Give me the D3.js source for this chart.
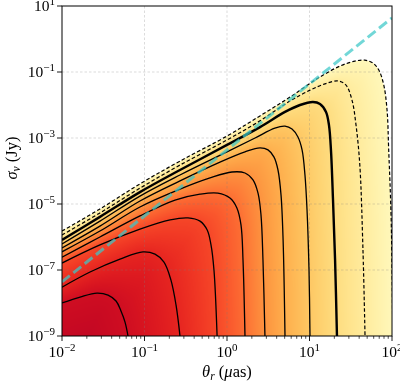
<!DOCTYPE html>
<html><head><meta charset="utf-8">
<script src="https://cdn.jsdelivr.net/npm/d3@7"></script>
<style>
html,body{margin:0;padding:0;background:#fff;}
#wrap{position:relative;width:400px;height:382px;}
canvas,svg{position:absolute;left:0;top:0;}
</style></head><body>
<div id="wrap"><canvas id="fill" width="400" height="382"></canvas><svg id="chart" width="400" height="382"></svg></div>
<script>
// Contour lines, as [log10 θ_r (μas), log10 σ_ν (Jy)]
const contour0 = [[-2,-5.82],[-1.54,-5.15],[-1.055,-4.39],[-0.57,-3.70],[0,-2.94],[0.40,-2.33],[0.764,-1.76],[1.127,-1.15],[1.37,-0.82],[1.55,-0.67],[1.67,-0.64],[1.77,-0.73],[1.84,-0.94],[1.90,-1.39],[1.94,-2.15],[1.96,-3.36],[1.99,-5.48],[2.01,-9.0]];
const contour1 = [[-2,-5.94],[-1.54,-5.27],[-1.055,-4.52],[-0.57,-3.82],[0,-3.06],[0.40,-2.48],[0.764,-1.88],[1.006,-1.55],[1.188,-1.36],[1.345,-1.27],[1.44,-1.39],[1.515,-1.85],[1.564,-2.61],[1.61,-3.82],[1.648,-6.39],[1.673,-9.0]];
const contour2 = [[-2,-6.09],[-1.54,-5.39],[-1.055,-4.64],[-0.57,-3.97],[0,-3.21],[0.40,-2.67],[0.703,-2.21],[0.885,-2.0],[1.042,-1.91],[1.127,-1.97],[1.20,-2.21],[1.236,-2.61],[1.26,-3.36],[1.285,-4.88],[1.31,-6.70],[1.333,-9.0]];
const contour3 = [[-2,-6.21],[-1.54,-5.52],[-1.055,-4.76],[-0.57,-4.12],[0,-3.42],[0.34,-3.0],[0.58,-2.70],[0.703,-2.64],[0.788,-2.73],[0.86,-2.97],[0.91,-3.36],[0.945,-4.12],[0.97,-5.18],[0.994,-7.0],[1.006,-9.0]];
const contour4 = [[-2,-6.33],[-1.54,-5.67],[-1.055,-4.91],[-0.57,-4.30],[-0.085,-3.73],[0.218,-3.42],[0.40,-3.30],[0.497,-3.36],[0.57,-3.58],[0.618,-3.97],[0.655,-4.73],[0.68,-6.09],[0.703,-9.0]];
const contour5 = [[-2,-6.45],[-1.54,-5.82],[-1.055,-5.09],[-0.57,-4.55],[-0.206,-4.21],[0.06,-4.03],[0.218,-4.06],[0.315,-4.27],[0.376,-4.67],[0.412,-5.33],[0.436,-6.70],[0.46,-9.0]];
const contour6 = [[-2,-6.61],[-1.54,-6.0],[-1.055,-5.36],[-0.63,-4.88],[-0.327,-4.70],[-0.11,-4.67],[0.036,-4.82],[0.12,-5.12],[0.17,-5.64],[0.194,-6.70],[0.218,-9.0]];
const contour7 = [[-2,-6.79],[-1.54,-6.24],[-1.055,-5.76],[-0.69,-5.48],[-0.473,-5.42],[-0.327,-5.52],[-0.24,-5.79],[-0.194,-6.24],[-0.158,-7.0],[-0.12,-9.0]];
const contour8 = [[-2,-7.52],[-1.66,-7.06],[-1.297,-6.67],[-1.018,-6.45],[-0.873,-6.52],[-0.764,-6.76],[-0.68,-7.30],[-0.618,-8.06],[-0.57,-9.0]];
const contour9 = [[-2,-8.0],[-1.78,-7.82],[-1.576,-7.70],[-1.442,-7.76],[-1.345,-7.94],[-1.285,-8.24],[-1.236,-8.58],[-1.2,-9.0]];
const contours = [contour0,contour1,contour2,contour3,contour4,contour5,contour6,contour7,contour8,contour9];
// constant-brightness line σ ∝ θ²
const cyanLine = [[-2,-7.36],[2,0.64]];
const xTicks = [1e-2,1e-1,1e0,1e1,1e2];
const xTickExp = ["−2","−1","0","1","2"];
const yTicks = [1e1,1e-1,1e-3,1e-5,1e-7,1e-9];
const yTickExp = ["1","−1","−3","−5","−7","−9"];
const gridX = [1e-1,1e0,1e1];
const gridY = [1e-1,1e-3,1e-5,1e-7];

const lineKind = ["dashed","dashed","thick","solid","solid","solid","solid","solid","solid","solid"];

const X0=62,X1=392,Y0=6,Y1=336;
const x = d3.scaleLog().domain([1e-2,1e2]).range([X0,X1]);
const y = d3.scaleLog().domain([1e-9,1e1]).range([Y1,Y0]);
const P = d => [x(Math.pow(10,d[0])), y(Math.pow(10,d[1]))];
const line = d3.line().curve(d3.curveCatmullRom.alpha(0.5));
const svg = d3.select("#chart");
const paths = contours.map(c => line(c.map(P)));

// sample paths
const tmp = svg.append("path");
const samples = paths.map(d => {
  tmp.attr("d", d);
  const node = tmp.node(), L = node.getTotalLength();
  const pts = [];
  for (let s=0; s<L; s+=1.5) { const p=node.getPointAtLength(s); pts.push([p.x,p.y]); }
  const p=node.getPointAtLength(L); pts.push([p.x,p.y]);
  return pts;
});
tmp.remove();

// region mask
const mcv = document.createElement("canvas"); mcv.width=400; mcv.height=382;
const mc = mcv.getContext("2d");
mc.fillStyle="#000"; mc.fillRect(0,0,400,382);
samples.forEach((pts,k)=>{
  const s=pts[0], e=pts[pts.length-1];
  const poly = pts.concat([[e[0],Y1+8],[X0-8,Y1+8],[X0-8,s[1]]]);
  mc.beginPath(); poly.forEach((p,i)=> i?mc.lineTo(p[0],p[1]):mc.moveTo(p[0],p[1])); mc.closePath();
  mc.fillStyle=`rgb(${(k+1)*20},0,0)`; mc.fill();
});
const mask = mc.getImageData(0,0,400,382).data;

function dist(pts,px,py){let m=Infinity;for(let j=0;j<pts.length;j++){const dx=pts[j][0]-px,dy=pts[j][1]-py;const d=dx*dx+dy*dy;if(d<m)m=d;}return Math.sqrt(m);}
const NL=1000, lut=[];
for(let i=0;i<=NL;i++){const c=d3.rgb(d3.interpolateYlOrRd(i/NL));lut.push([c.r,c.g,c.b]);}
const colorU = v => Math.max(0,Math.min(0.92,0.05+0.085*v));

const fctx = document.getElementById("fill").getContext("2d");
const img = fctx.createImageData(400,382);
for(let py=Y0;py<Y1;py++)for(let px=X0;px<X1;px++){
  const i=(py*400+px)*4;
  const n=Math.round(mask[i]/20);
  if(n===0)continue;
  const cx=px+0.5,cy=py+0.5;
  let v;
  if(n>=10){const da=dist(samples[9],cx,cy);v=9+Math.min(da/60,1)*0.6;}
  else{const da=dist(samples[n-1],cx,cy),db=dist(samples[n],cx,cy);v=(n-1)+da/(da+db+1e-9);}
  const c=lut[Math.round(colorU(v)*NL)];
  img.data[i]=c[0];img.data[i+1]=c[1];img.data[i+2]=c[2];img.data[i+3]=255;
}
fctx.putImageData(img,0,0);

// clip
svg.append("defs").append("clipPath").attr("id","plotclip").append("rect")
  .attr("x",X0).attr("y",Y0).attr("width",X1-X0).attr("height",Y1-Y0);

// grid
const grid = svg.append("g").attr("stroke","#808080").attr("stroke-opacity",0.35).attr("stroke-width",0.8).attr("stroke-dasharray","2.5,2");
gridX.forEach(t=>grid.append("line").attr("x1",x(t)).attr("x2",x(t)).attr("y1",Y0).attr("y2",Y1));
gridY.forEach(t=>grid.append("line").attr("x1",X0).attr("x2",X1).attr("y1",y(t)).attr("y2",y(t)));

// contours
const cg = svg.append("g").attr("clip-path","url(#plotclip)").attr("fill","none").attr("stroke","#000");
paths.forEach((d,k)=>{
  const p = cg.append("path").attr("d",d);
  if(lineKind[k]==="dashed") p.attr("stroke-width",1.2).attr("stroke-dasharray","3.6,2.2");
  else if(lineKind[k]==="thick") p.attr("stroke-width",2.4);
  else p.attr("stroke-width",1.3);
});
// cyan line
cg.append("path").attr("d",d3.line()(cyanLine.map(P)))
  .attr("stroke","#3cc8c8").attr("stroke-opacity",0.72).attr("stroke-width",3).attr("stroke-dasharray","10,4.5");

// frame
svg.append("rect").attr("x",X0).attr("y",Y0).attr("width",X1-X0).attr("height",Y1-Y0)
  .attr("fill","none").attr("stroke","#000").attr("stroke-width",1);

const font = "'Liberation Serif', 'DejaVu Serif', serif";
// x axis ticks
const ax = svg.append("g").attr("stroke","#000").attr("stroke-width",0.9);
xTicks.forEach(t=>ax.append("line").attr("x1",x(t)).attr("x2",x(t)).attr("y1",Y1).attr("y2",Y1+5));
for(let e=-2;e<2;e++)for(let m=2;m<10;m++){const t=m*Math.pow(10,e);ax.append("line").attr("x1",x(t)).attr("x2",x(t)).attr("y1",Y1).attr("y2",Y1+2.8).attr("stroke-width",0.7);}
yTicks.forEach(t=>ax.append("line").attr("x1",X0-5).attr("x2",X0).attr("y1",y(t)).attr("y2",y(t)));

const tl = svg.append("g").attr("font-family",font).attr("fill","#000");
xTicks.forEach((t,i)=>{
  const tx=tl.append("text").attr("x",x(t)).attr("y",Y1+21).attr("text-anchor","middle").attr("font-size",15.5);
  tx.append("tspan").text("10");
  tx.append("tspan").attr("dy",-6.5).attr("font-size",11).text(xTickExp[i]);
});
yTicks.forEach((t,i)=>{
  const tx=tl.append("text").attr("x",X0-7).attr("y",y(t)+5).attr("text-anchor","end").attr("font-size",15.5);
  tx.append("tspan").text("10");
  tx.append("tspan").attr("dy",-6.5).attr("font-size",11).text(yTickExp[i]);
});

// axis labels
const xl = tl.append("text").attr("x",(X0+X1)/2).attr("y",377).attr("text-anchor","middle").attr("font-size",16.5);
xl.append("tspan").attr("font-style","italic").text("θ");
xl.append("tspan").attr("font-style","italic").attr("font-size",11.5).attr("dy",3).text("r");
xl.append("tspan").attr("dy",-3).text(" (");
xl.append("tspan").attr("font-style","italic").text("μ");
xl.append("tspan").text("as)");

const yl = tl.append("text").attr("transform",`translate(17,158) rotate(-90)`).attr("text-anchor","middle").attr("font-size",16.5);
yl.append("tspan").attr("font-style","italic").text("σ");
yl.append("tspan").attr("font-style","italic").attr("font-size",11.5).attr("dy",3).text("ν");
yl.append("tspan").attr("dy",-3).text(" (Jy)");
</script></body></html>
